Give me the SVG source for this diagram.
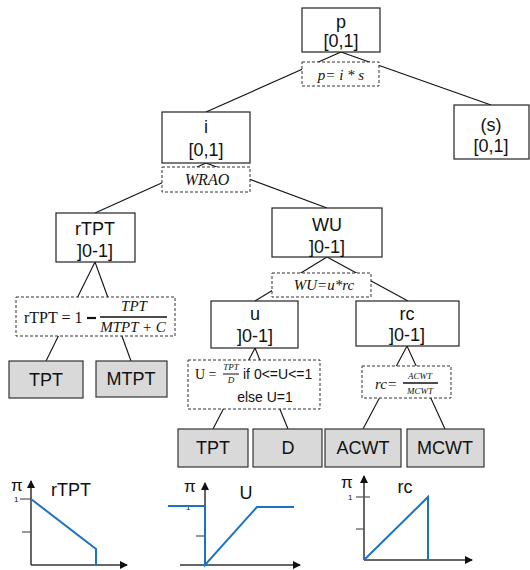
<svg xmlns="http://www.w3.org/2000/svg" width="530" height="570" viewBox="0 0 530 570">
<defs>
<marker id="ah" viewBox="0 0 8 8" refX="7" refY="4" markerWidth="8" markerHeight="8" markerUnits="userSpaceOnUse" orient="auto">
<path d="M0,0 L8,4 L0,8 Z" fill="#111"/>
</marker>
<style>
.box{fill:#fff;stroke:#222;stroke-width:1.2}
.gbox{fill:#d9d9d9;stroke:#333;stroke-width:1.2}
.fbox{fill:#fff;stroke:#333;stroke-width:1;stroke-dasharray:3,2}
.t{font-family:"Liberation Sans","DejaVu Sans",sans-serif;font-size:18px;fill:#111;text-anchor:middle}
.f{font-family:"Liberation Serif","DejaVu Serif",serif;font-style:italic;fill:#111;text-anchor:middle}
.fr{font-family:"Liberation Serif","DejaVu Serif",serif;fill:#111}
.s{font-family:"Liberation Sans","DejaVu Sans",sans-serif;fill:#111}
.c{stroke:#111;stroke-width:1.1;fill:none}
.ax{stroke:#333;stroke-width:1.5;fill:none}
.tk{stroke:#555;stroke-width:1.2}
.bl{stroke:#1a73c4;stroke-width:2;fill:none}
</style>
</defs>
<g id="connectors">
<line class="c" x1="341" y1="52" x2="206" y2="112"/>
<line class="c" x1="341" y1="52" x2="491" y2="105"/>
<line class="c" x1="206" y1="163" x2="95" y2="213"/>
<line class="c" x1="206" y1="163" x2="327" y2="208"/>
<line class="c" x1="95" y1="262" x2="46" y2="361"/>
<line class="c" x1="95" y1="262" x2="131" y2="361"/>
<line class="c" x1="327" y1="257" x2="255" y2="301"/>
<line class="c" x1="327" y1="257" x2="408" y2="301"/>
<line class="c" x1="255" y1="348" x2="213" y2="429"/>
<line class="c" x1="255" y1="348" x2="288" y2="429"/>
<line class="c" x1="407" y1="346" x2="363" y2="429"/>
<line class="c" x1="407" y1="346" x2="445" y2="429"/>
</g>
<g id="node-p">
<rect class="box" x="302" y="8" width="78" height="44"/>
<text class="t" x="341" y="28">p</text>
<text class="t" x="341" y="47">[0,1]</text>
</g>
<g id="formula-p">
<rect class="fbox" x="302" y="62" width="77" height="24"/>
<text class="f" x="341" y="80" font-size="15">p= i * s</text>
</g>
<g id="node-s">
<rect class="box" x="454" y="105" width="75" height="54"/>
<text class="t" x="491" y="131">(s)</text>
<text class="t" x="491" y="152">[0,1]</text>
</g>
<g id="node-i">
<rect class="box" x="162" y="112" width="88" height="51"/>
<text class="t" x="206" y="133">i</text>
<text class="t" x="206" y="156">[0,1]</text>
</g>
<g id="formula-i">
<rect class="fbox" x="162" y="167" width="88" height="25"/>
<text class="f" x="207" y="185" font-size="16">WRAO</text>
</g>
<g id="node-rTPT">
<rect class="box" x="56" y="213" width="79" height="49"/>
<text class="t" x="95" y="235">rTPT</text>
<text class="t" x="95" y="257">]0-1]</text>
</g>
<g id="formula-rTPT">
<rect class="fbox" x="16" y="297" width="159" height="39"/>
<text class="fr" x="24" y="323" font-size="16">rTPT = 1</text>
<line x1="87" y1="318" x2="96" y2="318" stroke="#111" stroke-width="2.2"/>
<text class="f" x="134" y="311" font-size="15">TPT</text>
<line x1="100" y1="317" x2="167" y2="317" stroke="#111" stroke-width="1.4"/>
<text class="f" x="133" y="332" font-size="15">MTPT + C</text>
</g>
<g id="node-TPT1">
<rect class="gbox" x="9" y="361" width="74" height="37"/>
<text class="t" x="46" y="386">TPT</text>
</g>
<g id="node-MTPT">
<rect class="gbox" x="96" y="361" width="71" height="36"/>
<text class="t" x="131" y="385">MTPT</text>
</g>
<g id="node-WU">
<rect class="box" x="272" y="208" width="110" height="49"/>
<text class="t" x="327" y="231">WU</text>
<text class="t" x="327" y="253">]0-1]</text>
</g>
<g id="formula-WU">
<rect class="fbox" x="272" y="273" width="99" height="24"/>
<text class="f" x="324" y="290" font-size="15">WU=u*rc</text>
</g>
<g id="node-u">
<rect class="box" x="211" y="301" width="87" height="47"/>
<text class="t" x="255" y="320">u</text>
<text class="t" x="255" y="342">]0-1]</text>
</g>
<g id="formula-u">
<rect class="fbox" x="188" y="360" width="132" height="49"/>
<text class="fr" x="195" y="379" font-size="14">U =</text>
<text class="f" x="231" y="370" font-size="9">TPT</text>
<line x1="223" y1="374" x2="239" y2="374" stroke="#111" stroke-width="1"/>
<text class="f" x="231" y="383" font-size="9">D</text>
<text class="s" x="243" y="379" font-size="14">if 0&lt;=U&lt;=1</text>
<text class="s" x="265" y="402" font-size="14" text-anchor="middle">else U=1</text>
</g>
<g id="node-TPT2">
<rect class="gbox" x="178" y="429" width="70" height="38"/>
<text class="t" x="213" y="454">TPT</text>
</g>
<g id="node-D">
<rect class="gbox" x="253" y="429" width="69" height="38"/>
<text class="t" x="288" y="454">D</text>
</g>
<g id="node-rc">
<rect class="box" x="356" y="301" width="103" height="45"/>
<text class="t" x="407" y="320">rc</text>
<text class="t" x="407" y="341">]0-1]</text>
</g>
<g id="formula-rc">
<rect class="fbox" x="362" y="366" width="89" height="32"/>
<text class="f" x="386" y="389" font-size="15">rc=</text>
<text class="f" x="420" y="379" font-size="9">ACWT</text>
<line x1="403" y1="383" x2="438" y2="383" stroke="#111" stroke-width="1.4"/>
<text class="f" x="420" y="394" font-size="9">MCWT</text>
</g>
<g id="node-ACWT">
<rect class="gbox" x="325" y="429" width="76" height="38"/>
<text class="t" x="363" y="454">ACWT</text>
</g>
<g id="node-MCWT">
<rect class="gbox" x="407" y="429" width="77" height="38"/>
<text class="t" x="445" y="454">MCWT</text>
</g>
<g id="graph-rTPT">
<line class="ax" x1="31" y1="565" x2="31" y2="481" marker-end="url(#ah)"/>
<line class="ax" x1="31" y1="565" x2="127" y2="565" marker-end="url(#ah)"/>
<line class="tk" x1="20" y1="499" x2="31" y2="499"/>
<line class="tk" x1="22" y1="532" x2="31" y2="532"/>
<text class="s" x="14" y="502" font-size="8">1</text>
<text class="s" x="11" y="491" font-size="17">π</text>
<text class="s" x="71" y="496" font-size="18" text-anchor="middle">rTPT</text>
<polyline class="bl" points="31,499 96,549 96,565"/>
</g>
<g id="graph-U">
<line class="ax" x1="205" y1="565" x2="205" y2="483" marker-end="url(#ah)"/>
<line class="ax" x1="180" y1="565" x2="300" y2="565" marker-end="url(#ah)"/>
<line class="tk" x1="196" y1="536" x2="205" y2="536"/>
<text class="s" x="186" y="510" font-size="8">1</text>
<text class="s" x="184" y="492" font-size="17">π</text>
<text class="s" x="246" y="499" font-size="18" text-anchor="middle">U</text>
<polyline class="bl" points="168,506 205,506 205,565 257,507 294,507"/>
</g>
<g id="graph-rc">
<line class="ax" x1="364" y1="560" x2="364" y2="476" marker-end="url(#ah)"/>
<line class="ax" x1="364" y1="560" x2="472" y2="560" marker-end="url(#ah)"/>
<line class="tk" x1="356" y1="497" x2="370" y2="497"/>
<line class="tk" x1="356" y1="529" x2="364" y2="529"/>
<text class="s" x="348" y="500" font-size="8">1</text>
<text class="s" x="341" y="488" font-size="17">π</text>
<text class="s" x="405" y="493" font-size="18" text-anchor="middle">rc</text>
<polyline class="bl" points="364,560 428,497 428,560"/>
</g>
</svg>
